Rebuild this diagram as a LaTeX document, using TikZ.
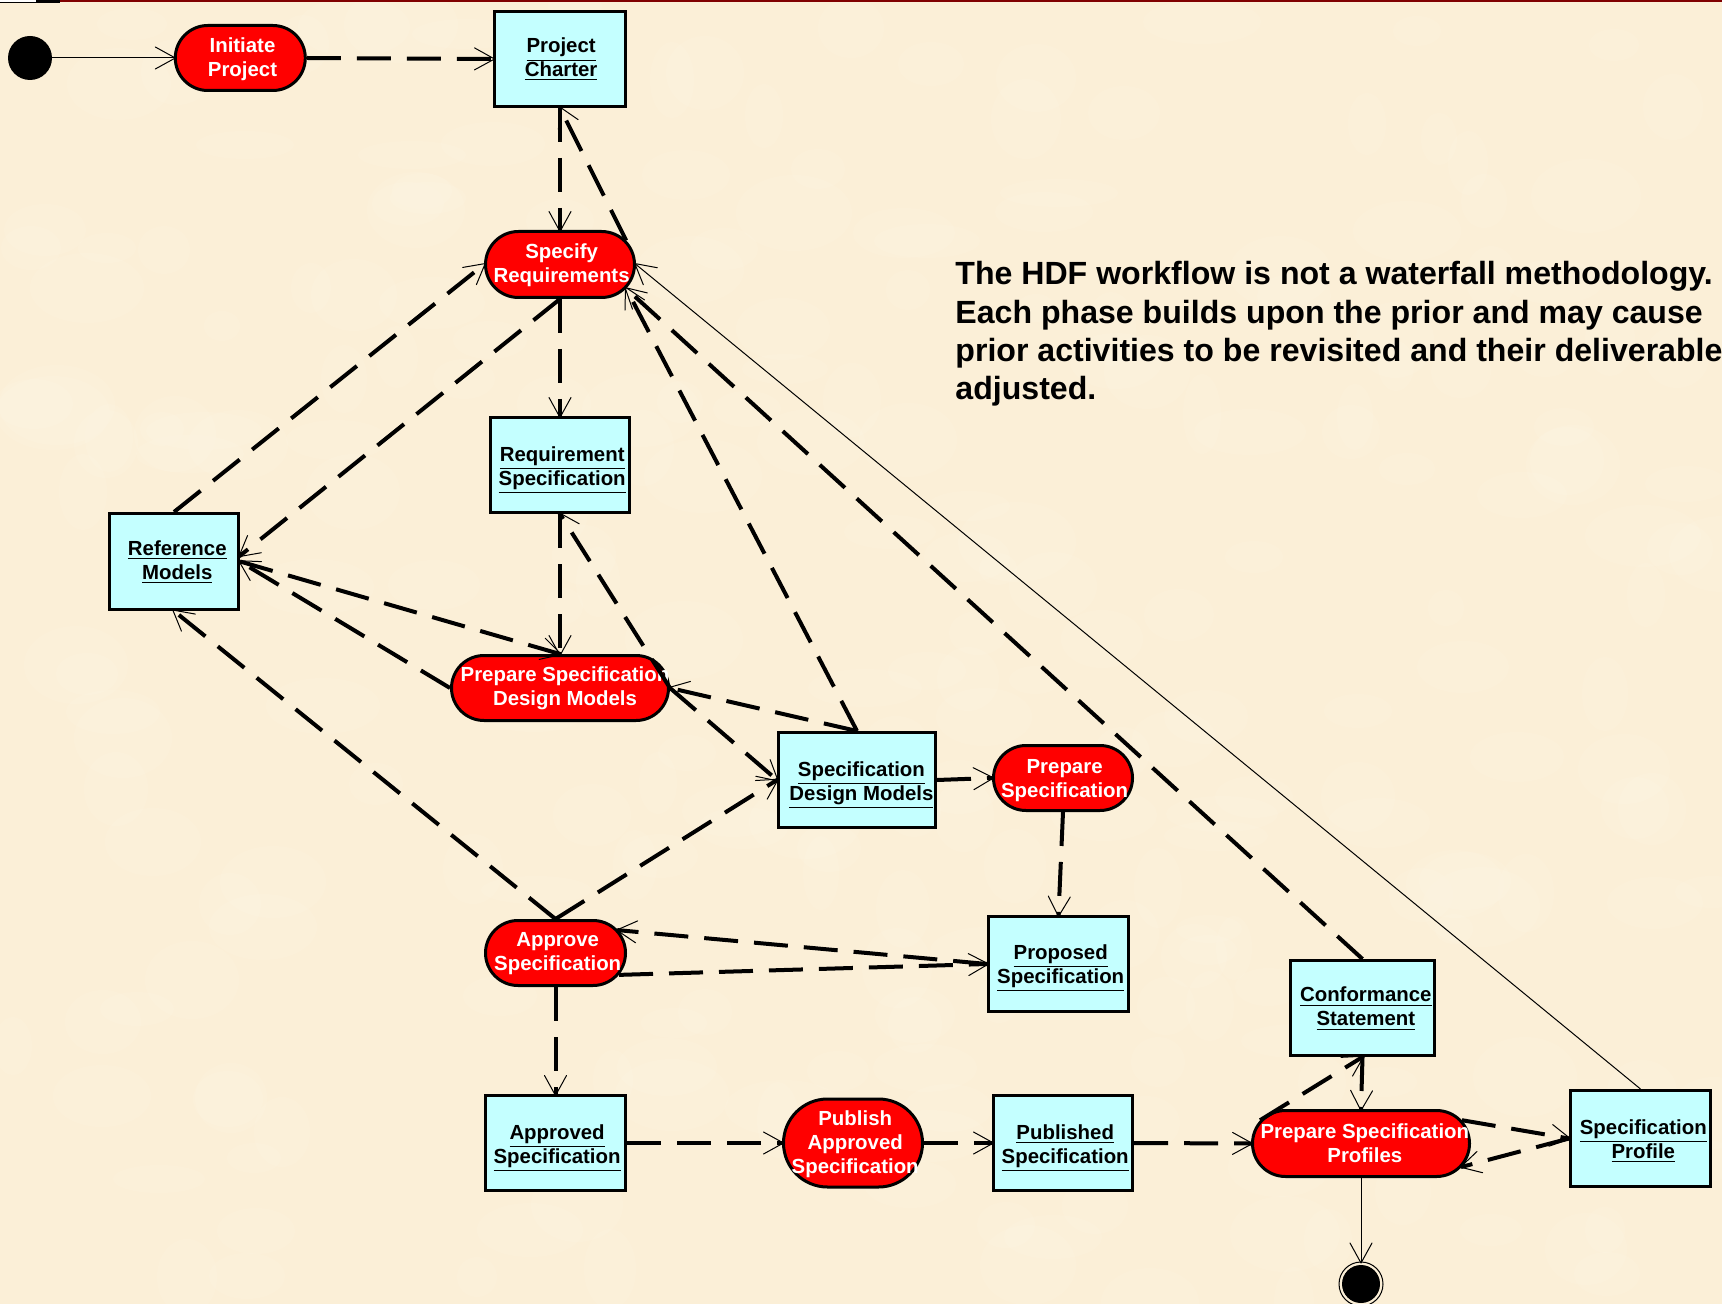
\documentclass[tikz,border=0pt]{standalone}
\usepackage{fontspec}
\setmainfont{Liberation Sans}
\usetikzlibrary{arrows.meta,shapes.misc}
\definecolor{bgc}{RGB}{251,239,215}
\definecolor{bgl}{RGB}{255,247,232}
\definecolor{boxc}{RGB}{196,255,255}
\definecolor{barc}{RGB}{128,0,0}
\newcommand{\ul}[1]{\smash{\underline{#1}}}
\newsavebox\labelbox
\newcommand{\lbl}[3]{\sbox\labelbox{\begin{tabular}{@{}c@{}}#3\end{tabular}}%
  \raisebox{\dimexpr-#2pt\relax}[\ht\labelbox][\dp\labelbox]{\makebox[0pt][c]{\hspace{\dimexpr2\dimexpr#1pt\relax\relax}\usebox\labelbox}}}
\tikzset{
  x=0.5pt,y=-0.5pt,
  vee/.tip={Straight Barb[length=10pt,width=11pt,line width=0.5pt,round]},
  dims/.style 2 args={minimum width=(#1-1)*0.5pt,minimum height=(#2-1)*0.5pt},
  artefact/.style={draw=black,line width=1.5pt,fill=boxc,rectangle,inner sep=0pt,
    font=\fontsize{10.2}{12}\selectfont\bfseries,text=black},
  action/.style={draw=black,line width=1.5pt,fill=red,rounded rectangle,inner sep=0pt,
    font=\fontsize{10.2}{12}\selectfont\bfseries,text=white},
  flow/.style={line width=2pt,-{vee},dash pattern=on 17pt off 8pt,shorten >=-1pt},
  ctrl/.style={line width=0.5pt,-{vee},shorten >=-1pt},
}
\begin{document}
\begin{tikzpicture}
\useasboundingbox (0,0) rectangle (1722,1304);
\fill[bgc] (0,0) rectangle (1722,1304);
\begin{scope}
\clip (0,0) rectangle (1722,1304);
\pgfmathsetseed{7}
\foreach \i in {1,...,260}{
  \pgfmathsetmacro{\px}{random(0,1722)}
  \pgfmathsetmacro{\py}{random(0,1304)}
  \pgfmathsetmacro{\ra}{random(18,60)}
  \pgfmathsetmacro{\rb}{random(14,40)}
  \fill[bgl,opacity=0.17] (\px,\py) ellipse[x radius=\ra,y radius=\rb];
}
\end{scope}
\fill[barc] (60,0) rectangle (1722,2);
\fill[black] (0,0) rectangle (60,3);
\fill[white] (0,0) rectangle (36,2);
% objects
\node[artefact,dims={132}{96}] (pc) at (560,59) {\lbl{.55}{.55}{\ul{Project}\\\ul{Charter}}};
\node[artefact,dims={140}{96}] (rs) at (560,465) {\lbl{1.1}{1.9}{\ul{Requirement}\\\ul{Specification}}};
\node[artefact,dims={130}{97}] (rm) at (174,561.5) {\lbl{1.65}{.55}{\ul{Reference}\\\ul{Models}}};
\node[artefact,dims={158}{96}] (sd) at (857,780) {\lbl{2.2}{1.9}{\ul{Specification}\\\ul{Design Models}}};
\node[artefact,dims={141}{96}] (ppr) at (1058.5,964) {\lbl{1.1}{1.1}{\ul{Proposed}\\\ul{Specification}}};
\node[artefact,dims={145}{96}] (cs) at (1362.5,1008) {\lbl{1.65}{.55}{\ul{Conformance}\\\ul{Statement}}};
\node[artefact,dims={141}{96}] (ap) at (555.5,1143) {\lbl{.8}{1.9}{\ul{Approved}\\\ul{Specification}}};
\node[artefact,dims={140}{96}] (pu) at (1063,1143) {\lbl{1.1}{1.9}{\ul{Published}\\\ul{Specification}}};
\node[artefact,dims={141}{97}] (sp) at (1640.5,1138.5) {\lbl{1.4}{1.4}{\ul{Specification}\\\ul{Profile}}};
% actions
\node[action,dims={131}{66}] (ip) at (240.3,58) {\lbl{1.1}{1.1}{Initiate\\Project}};
\node[action,dims={150}{67}] (sr) at (560,264.5) {\lbl{.8}{.55}{Specify\\Requirements}};
\node[action,dims={218}{66}] (pd) at (560,688) {\lbl{2.5}{.55}{Prepare Specification\\Design Models}};
\node[action,dims={140}{66}] (ps) at (1063,778) {\lbl{.8}{1.1}{Prepare\\Specification}};
\node[action,dims={141}{66}] (as) at (555.5,953) {\lbl{1.1}{.55}{Approve\\Specification}};
\node[action,dims={140}{89}] (pa) at (853,1143) {\lbl{1.1}{.9}{Publish\\Approved\\Specification}};
\node[action,dims={218}{67}] (pp) at (1361,1143.5) {\lbl{1.9}{1}{Prepare Specification\\Profiles}};
% start and end
\node[circle,fill=black,inner sep=0pt,minimum size=22pt] (st) at (30,58) {};
\node[circle,draw=black,line width=0.5pt,fill=bgc,inner sep=0pt,minimum size=22pt] (fin) at (1361,1284) {};
\fill[black] (fin.center) circle[radius=19];
% text
\node[anchor=north west,inner sep=0pt,align=left,font=\fontsize{16.05}{19.2}\selectfont\bfseries,text=black] (note) at (955,261)
 {The HDF workflow is not a waterfall methodology.\\Each phase builds upon the prior and may cause\\prior activities to be revisited and their deliverables\\adjusted.};
% connectors
\draw[ctrl] (st) -- (ip.west);
\draw[flow] (ip.east) -- (pc.west);
\draw[flow] (pc.south) -- (sr.north);
\draw[flow] (sr.20) -- (pc.south);
\draw[flow] (sr.south) -- (rs.north);
\draw[flow] (sr.south) -- (rm.5);
\draw[flow] (rm.north) -- (sr.west);
\draw[flow] (rs.south) -- (pd.north);
\draw[flow] (pd.east) -- (rs.south);
\draw[flow] (rm.east) -- (pd.north);
\draw[flow] (pd.west) -- (rm.east);
\draw[flow] (pd.east) -- (sd.west);
\draw[flow] (sd.north) -- (pd.east);
\draw[flow] (sd.north) -- (sr.-20);
\draw[flow] (cs.north) -- (sr.-20);
\draw[ctrl] (sp.north) -- (sr.east);
\draw[flow] (sd.east) -- (ps.west);
\draw[flow] (ps.south) -- (ppr.north);
\draw[flow] (ppr.west) -- (as.20);
\draw[flow] (as.-19) -- (ppr.west);
\draw[flow] (as.north) -- (sd.west);
\draw[flow] (as.north) -- (rm.south);
\draw[flow] (as.south) -- (ap.north);
\draw[flow] (ap.east) -- (pa.west);
\draw[flow] (pa.east) -- (pu.west);
\draw[flow] (pu.east) -- (pp.west);
\draw[flow] (pp.167) -- (cs.south);
\draw[flow] (cs.south) -- (pp.north);
\draw[flow] (pp.13) -- (sp.west);
\draw[flow] (sp.west) -- (pp.-13);
\draw[ctrl] (pp.south) -- (fin.north);
\end{tikzpicture}
\end{document}
